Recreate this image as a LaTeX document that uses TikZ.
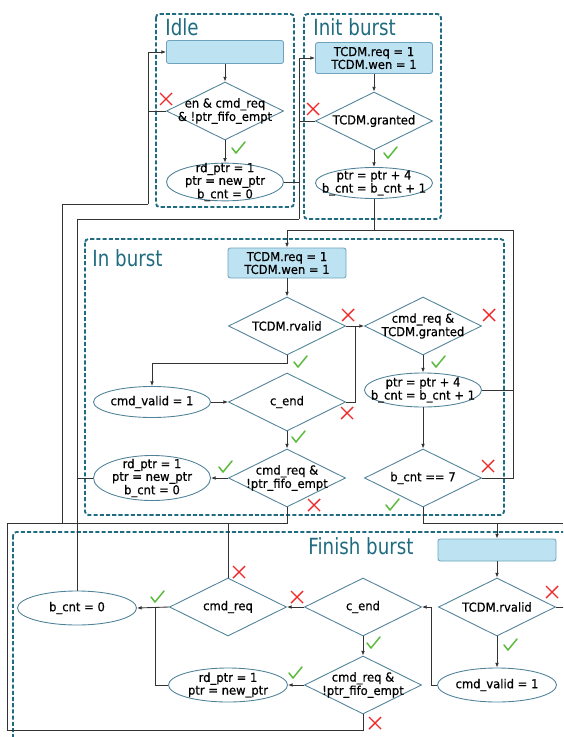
\documentclass[tikz,border=0pt]{standalone}
\usepackage{fontspec}
\setmainfont{DejaVu Sans}[FakeStretch=0.94,FakeBold=0.6]
\newfontfamily\zonefont{DejaVu Sans}[FakeStretch=0.82]
\usetikzlibrary{shapes.geometric,arrows.meta}

\begin{document}
\begin{tikzpicture}[x=0.03cm,y=-0.03cm,line width=0.75pt,
    every node/.style={font=\fontsize{10.5}{9.6}\selectfont,align=center},
    zone/.style={draw=zonec,line width=1.6pt,dash pattern=on 3.5pt off 1.8pt,rounded corners=3pt},
    title/.style={text=zonec,font=\zonefont\fontsize{19}{22}\selectfont,anchor=base west,inner sep=0pt},
    act/.style={draw=actline,fill=actfill,rounded corners=2pt,minimum width=3.51cm,inner sep=0pt},
    test/.style={diamond,draw=shapec,aspect=2,inner xsep=-12pt,inner ysep=-2pt,minimum width=3.51cm,minimum height=1.74cm},
    upd/.style={ellipse,draw=shapec,inner xsep=-10pt,inner ysep=-5pt,minimum width=3.51cm},
    link/.style={draw=linec},
    arr/.style={link,-{Latex[length=4pt,width=3.2pt]}},
    yes/.pic={\draw[okc,line width=1.3pt,line cap=round,line join=round] (-6,0) -- (-2,5) -- (7,-6);},
    nope/.pic={\draw[noc,line width=1.2pt] (-6,-6) -- (6,6) (-6,6) -- (6,-6);}]
    \definecolor{zonec}{HTML}{1F6B80}
    \definecolor{shapec}{HTML}{4F8299}
    \definecolor{actline}{HTML}{6FA3BC}
    \definecolor{actfill}{HTML}{BDE3F2}
    \definecolor{linec}{HTML}{333333}
    \definecolor{okc}{HTML}{5DBB3F}
    \definecolor{noc}{HTML}{EE2B2B}
    \useasboundingbox (0,0) rectangle (563,737);
    \clip (0,0) rectangle (563,737);

    \draw[zone] (156,14) rectangle (294,207);
    \draw[zone] (304,14) rectangle (441,219);
    \draw[zone] (85,239) rectangle (504,515);
    \draw[zone] (13,532) rectangle (590,760);
    \node[title] (tIdle) at (165,36) {Idle};
    \node[title] (tInit) at (313,36) {Init burst};
    \node[title] (tIn) at (92,266) {In burst};
    \node[title] (tFin) at (308,554) {Finish burst};

    \node[act,minimum height=0.69cm] (idleR) at (225,52) {};
    \node[test] (idleD) at (225,111) {en \& cmd\_req\\\& !ptr\_fifo\_empt};
    \node[upd,minimum height=1.11cm] (idleE) at (225,182) {rd\_ptr = 1\\ptr = new\_ptr\\b\_cnt = 0};

    \node[act,minimum height=0.93cm] (initR) at (374,58) {TCDM.req = 1\\TCDM.wen = 1};
    \node[test] (initD) at (374,121) {TCDM.granted};
    \node[upd,minimum height=0.93cm] (initE) at (374,183) {ptr = ptr + 4\\b\_cnt = b\_cnt + 1};

    \node[act,minimum height=0.9cm,minimum width=3.54cm] (inR) at (287,263) {TCDM.req = 1\\TCDM.wen = 1};
    \node[test] (inD1) at (287,326) {TCDM.rvalid};
    \node[test] (inD2) at (423,326) {cmd\_req \&\\TCDM.granted};
    \node[upd,minimum height=0.93cm] (inE1) at (152,402) {cmd\_valid = 1};
    \node[test] (inD3) at (287,402) {c\_end};
    \node[upd,minimum height=1.02cm] (inE2) at (423,390) {ptr = ptr + 4\\b\_cnt = b\_cnt + 1};
    \node[test] (inD4) at (287,478) {cmd\_req \&\\!ptr\_fifo\_empt};
    \node[upd,minimum height=1.35cm] (inE3) at (152,478) {rd\_ptr = 1\\ptr = new\_ptr\\b\_cnt = 0};
    \node[test] (inD5) at (423,478) {b\_cnt == 7};

    \node[act,minimum height=0.66cm,minimum width=3.54cm] (finR) at (497,550) {};
    \node[test] (finD1) at (497,607) {TCDM.rvalid};
    \node[upd,minimum height=1.02cm,minimum width=3.57cm] (finE1) at (497,685) {cmd\_valid = 1};
    \node[test] (finD2) at (363,607) {c\_end};
    \node[test] (finD3) at (363,685) {cmd\_req \&\\!ptr\_fifo\_empt};
    \node[test] (finD4) at (228,607) {cmd\_req};
    \node[upd,minimum height=1.02cm,minimum width=3.57cm] (finE2) at (228,685) {rd\_ptr = 1\\ptr = new\_ptr};
    \node[upd,minimum height=1.02cm,minimum width=3.57cm] (finE3) at (77,608) {b\_cnt = 0};

    \coordinate (jIdle) at (148,204);
    \coordinate (jBack) at (62,523);
    \coordinate (jInit) at (299,219);
    \coordinate (jIn) at (287,230);
    \coordinate (jLoop) at (513,230);
    \coordinate (jGrant) at (355,326);
    \coordinate (jFin) at (497,523);
    \coordinate (jCnt) at (155,607);

    \draw[arr] (idleR.south) -- (idleD.north);
    \draw[arr] (idleD.south) -- (idleE.north);
    \draw[link] (idleD.west) -- (idleD.west -| jIdle);
    \draw[arr] (jIdle) |- (idleR.west);
    \draw[link] (finD3.south) |- (7,730) |- (jBack) |- (jIdle);
    \draw[link] (inD4.south) |- (jBack);
    \draw[link] (finD4.north) -- (finD4.north |- jBack);

    \draw[arr] (jInit) |- (initR.west);
    \draw[link] (idleE.east) -- (idleE.east -| jInit);
    \draw[link] (initD.west) -- (initD.west -| jInit);
    \draw[link] (finE3.north) |- (jInit);
    \draw[link] (inE3.west) -- (inE3.west -| finE3.north);
    \draw[arr] (initR.south) -- (initD.north);
    \draw[arr] (initD.south) -- (initE.north);
    \draw[arr] (initE.south) |- (jIn) -- (inR.north);

    \draw[arr] (inR.south) -- (inD1.north);
    \draw[arr] (inD1.east) -- (inD2.west);
    \draw[link] (inD3.east) -| (jGrant);
    \draw[arr] (inD1.south) -- ++(0,8) -| (inE1.north);
    \draw[arr] (inE1.east) -- (inD3.west);
    \draw[arr] (inD3.south) -- (inD4.north);
    \draw[arr] (inD4.west) -- (inE3.east);
    \draw[arr] (inD2.south) -- (inE2.north);
    \draw[arr] (inE2.south) -- (inD5.north);
    \draw[link] (inE2.east) -- (inE2.east -| jLoop);
    \draw[link] (inD5.east) -| (jLoop) -- (jIn);
    \draw[link] (inD5.south) |- (563,523);
    \draw[arr] (jFin) -- (finR.north);

    \draw[arr] (finR.south) -- (finD1.north);
    \draw[link] (finD1.east) -- ++(10,0);
    \draw[arr] (finD1.south) -- (finE1.north);
    \draw[arr] (finE1.west) -- ++(-6,0) |- (finD2.east);
    \draw[arr] (finD2.west) -- (finD4.east);
    \draw[arr] (finD2.south) -- (finD3.north);
    \draw[arr] (finD3.west) -- (finE2.east);
    \draw[arr] (finD4.west) -- (finE3.east);
    \draw[link] (finE2.west) -| (jCnt);

    \foreach \x/\y in {166/99,313/109,348/315,347/413,489/315,488/466,314/505,552/592,297/597,375/723,239/572}
      \pic at (\x,\y) {nope};
    \foreach \x/\y in {238/148,390/153,300/362,298/437,225/467,438/362,392/505,510/645,373/643,295/673,157/597}
      \pic at (\x,\y) {yes};
\end{tikzpicture}
\end{document}
